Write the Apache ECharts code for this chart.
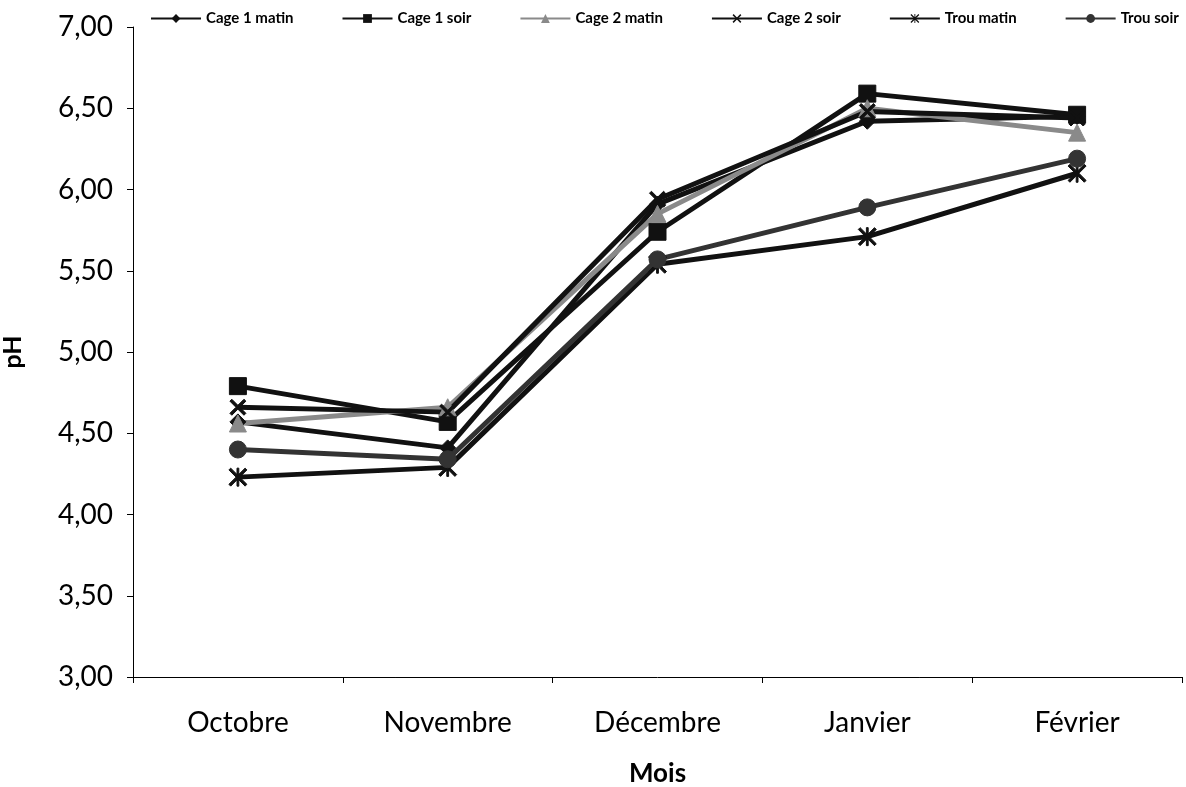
<!DOCTYPE html>
<html>
<head>
<meta charset="utf-8">
<script src="https://cdn.jsdelivr.net/npm/echarts@6/dist/echarts.min.js"></script>
<style>
  html, body { margin: 0; padding: 0; background: #fff; }
  #chart { width: 1186px; height: 787px; }
</style>
</head>
<body>
<div id="chart"></div>
<script>
// Monthly pH readings per sampling site and time of day
const months = ['Octobre', 'Novembre', 'Décembre', 'Janvier', 'Février'];
const cage1Matin = [4.57, 4.41, 5.91, 6.42, 6.45];
const cage1Soir  = [4.79, 4.57, 5.74, 6.59, 6.46];
const cage2Matin = [4.56, 4.66, 5.85, 6.50, 6.35];
const cage2Soir  = [4.66, 4.63, 5.94, 6.48, 6.44];
const trouMatin  = [4.23, 4.29, 5.54, 5.71, 6.10];
const trouSoir   = [4.40, 4.34, 5.57, 5.89, 6.19];
const yTicks = { min: 3, max: 7, step: 0.5 };

const FONT = 'Lato';

// Marker outlines built as filled polygons
const crossPath = 'path://M0,1.2 L1.2,0 L5,3.8 L8.8,0 L10,1.2 L6.2,5 L10,8.8 L8.8,10 L5,6.2 L1.2,10 L0,8.8 L3.8,5 Z';
const starPath = 'path://M0,1 L1,0 L5,4 L9,0 L10,1 L6,5 L10,9 L9,10 L5,6 L1,10 L0,9 L4,5 Z M4.5,0 L5.5,0 L5.5,10 L4.5,10 Z';

function series(name, data, symbol, color, size) {
  return {
    name: name,
    type: 'line',
    data: data,
    symbol: symbol,
    symbolSize: size,
    showAllSymbol: true,
    lineStyle: { color: color, width: 5 },
    itemStyle: { color: color, borderColor: color },
    emphasis: { disabled: true },
    z: 3
  };
}

const chart = echarts.init(document.getElementById('chart'), null, { renderer: 'canvas' });
chart.setOption({
  animation: false,
  backgroundColor: '#ffffff',
  grid: { left: 133, right: 4, top: 27, bottom: 110, containLabel: false, outerBoundsMode: 'none' },
  legend: {
    top: 11,
    left: 150,
    width: 1036,
    padding: 0,
    itemWidth: 50,
    itemHeight: 11,
    itemGap: 48,
    textStyle: { fontFamily: FONT, fontSize: 15, fontWeight: 'bold', color: '#000' },
    data: ['Cage 1 matin', 'Cage 1 soir', 'Cage 2 matin', 'Cage 2 soir', 'Trou matin', 'Trou soir']
  },
  xAxis: {
    type: 'category',
    data: months,
    boundaryGap: true,
    name: 'Mois',
    nameLocation: 'middle',
    nameGap: 84,
    nameTextStyle: { fontFamily: FONT, fontSize: 26, fontWeight: 'bold', color: '#000' },
    axisLine: { lineStyle: { color: '#000', width: 1 } },
    axisTick: { show: true, alignWithLabel: false, length: 6, lineStyle: { color: '#000' } },
    axisLabel: { fontFamily: FONT, fontSize: 28, color: '#000', margin: 32 },
    splitLine: { show: false }
  },
  yAxis: {
    type: 'value',
    min: yTicks.min,
    max: yTicks.max,
    interval: yTicks.step,
    name: 'pH',
    nameLocation: 'middle',
    nameGap: 108,
    nameRotate: 90,
    nameTextStyle: { fontFamily: FONT, fontSize: 25, fontWeight: 'bold', color: '#000' },
    axisLine: { show: true, lineStyle: { color: '#000', width: 1 } },
    axisTick: { show: true, length: 6, inside: false, lineStyle: { color: '#000' } },
    axisLabel: {
      fontFamily: FONT, fontSize: 28, color: '#000', margin: 20,
      formatter: v => v.toFixed(2).replace('.', ',')
    },
    splitLine: { show: false }
  },
  series: [
    series('Cage 1 matin', cage1Matin, 'diamond', '#111', 16),
    series('Cage 1 soir', cage1Soir, 'rect', '#111', 17),
    series('Cage 2 matin', cage2Matin, 'triangle', '#8a8a8a', 17),
    series('Cage 2 soir', cage2Soir, crossPath, '#111', 16),
    series('Trou matin', trouMatin, starPath, '#111', 18),
    series('Trou soir', trouSoir, 'circle', '#333', 17)
  ]
});
</script>
</body>
</html>
